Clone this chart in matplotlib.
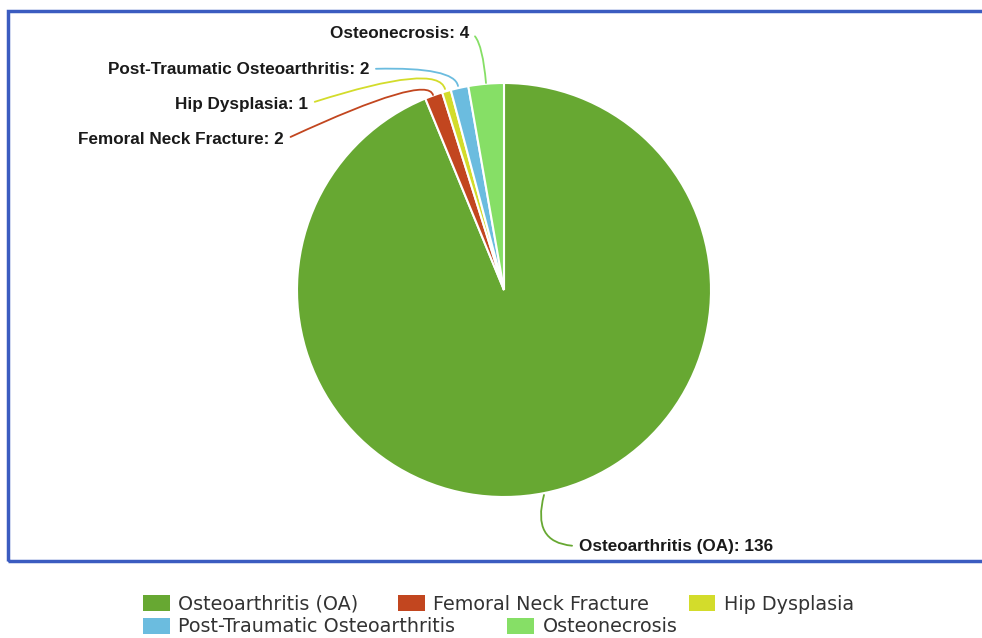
import matplotlib
matplotlib.use("Agg")
import matplotlib.pyplot as plt
from matplotlib.patches import Rectangle, Patch

categories = ["Osteoarthritis (OA)", "Femoral Neck Fracture", "Hip Dysplasia",
              "Post-Traumatic Osteoarthritis", "Osteonecrosis"]
values = [136, 2, 1, 2, 4]
colors = ["#67a832", "#c2461f", "#d3dc2b", "#6bbcdf", "#86df66"]

W, H = 982, 638
fig = plt.figure(figsize=(W / 100, H / 100), dpi=100)

# chart frame
fig.patches.append(Rectangle((8 / W, 1 - 561 / H), (995 - 8) / W, (561 - 11) / H,
                             transform=fig.transFigure, fill=False,
                             edgecolor="#3b5cc0", linewidth=2.5, clip_on=False))

cx, cy, r = 504, 290, 207
ax = fig.add_axes([(cx - r) / W, 1 - (cy + r) / H, 2 * r / W, 2 * r / H])
wedges, _ = ax.pie(values, colors=colors, startangle=90, counterclock=False,
                   radius=1.0, wedgeprops=dict(edgecolor="white", linewidth=1.5))
ax.set_xlim(-1, 1)
ax.set_ylim(-1, 1)
ax.set_aspect("equal")
ax.axis("off")


def px(x, y):
    return ((x - cx) / r, (cy - y) / r)


# label text positions (pixels) and connector settings
label_specs = [
    ((579, 546), "left", (0, 0.5), (544, 495), "angle3,angleA=180,angleB=75"),
    ((284, 140), "right", (1, 0.5), (433, 95), "angle3,angleA=25,angleB=-75"),
    ((308, 104), "right", (1, 0.5), (445, 89), "angle3,angleA=18,angleB=-75"),
    ((369, 69), "right", (1, 0.5), (458, 86), "angle3,angleA=2,angleB=-80"),
    ((469, 33), "right", (1, 0.5), (486, 83), "angle3,angleA=0,angleB=-85"),
]

for (cat, val, col, spec) in zip(categories, values, colors, label_specs):
    (tx, ty), ha, relpos, (ex, ey), conn = spec
    ax.annotate(f"{cat}: {val}", xy=px(ex, ey), xytext=px(tx, ty),
                xycoords="data", textcoords="data", ha=ha, va="center",
                fontsize=12.3, fontweight="bold", family=["Liberation Sans", "DejaVu Sans"],
                color="#1a1a1a", annotation_clip=False,
                arrowprops=dict(arrowstyle="-", color=col, lw=1.3,
                                connectionstyle=conn, relpos=relpos,
                                shrinkA=3, shrinkB=0))

handles = [Patch(facecolor=c, edgecolor="none") for c in colors]
leg_kw = dict(frameon=False, handlelength=1.4, handleheight=0.94,
              handletextpad=0.45, borderpad=0, borderaxespad=0,
              labelcolor="#333333", prop={"family": "DejaVu Sans", "size": 13.8})
l1 = fig.legend(handles[:3], categories[:3], ncol=3, loc="center left",
                bbox_to_anchor=(143 / W, 1 - 604 / H), columnspacing=2.05, **leg_kw)
l2 = fig.legend(handles[3:], categories[3:], ncol=2, loc="center left",
                bbox_to_anchor=(143 / W, 1 - 627 / H), columnspacing=2.7, **leg_kw)

fig.savefig("out.png", dpi=100)
